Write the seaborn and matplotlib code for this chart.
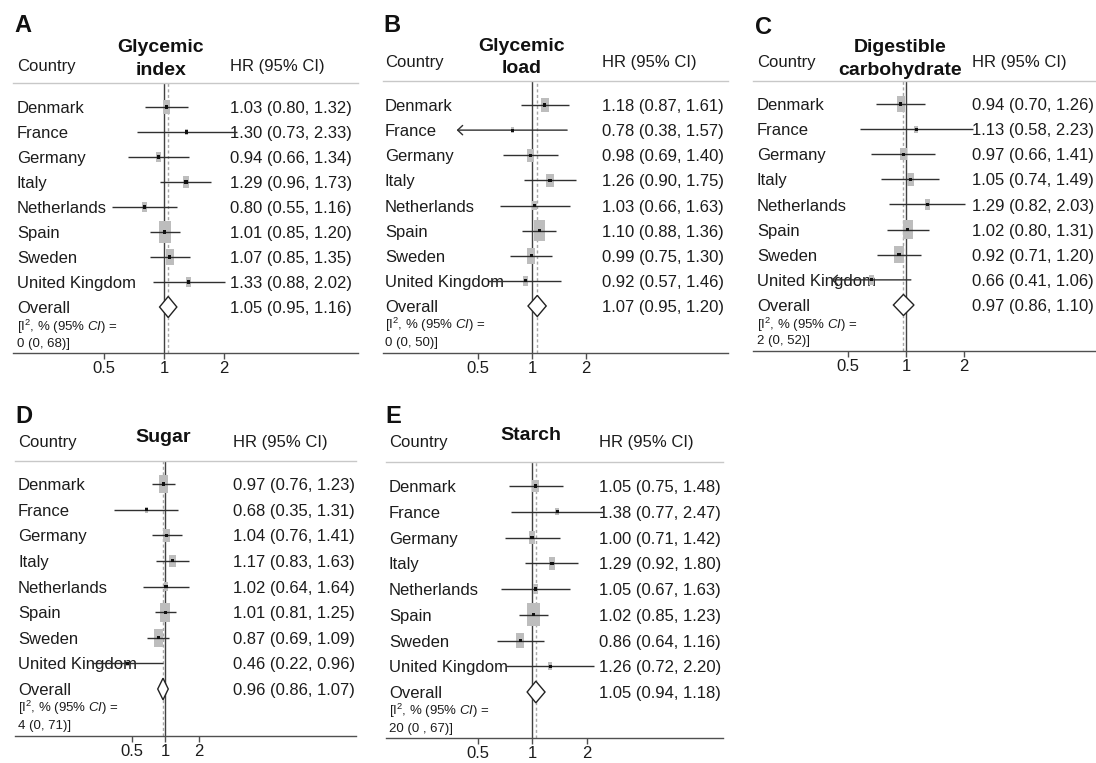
import numpy as np
import pandas as pd
import matplotlib
matplotlib.use("Agg")
import matplotlib.pyplot as plt
import matplotlib.transforms as mtrans
from matplotlib.ticker import FixedLocator, NullLocator
import seaborn as sns

# ---------------- data ----------------
countries = ["Denmark", "France", "Germany", "Italy", "Netherlands",
             "Spain", "Sweden", "United Kingdom"]

# A  Glycemic index
gi_hr = [1.03, 1.30, 0.94, 1.29, 0.80, 1.01, 1.07, 1.33]
gi_lo = [0.80, 0.73, 0.66, 0.96, 0.55, 0.85, 0.85, 0.88]
gi_hi = [1.32, 2.33, 1.34, 1.73, 1.16, 1.20, 1.35, 2.02]
gi_w = [15.4, 2.9, 7.7, 11.1, 7.0, 32.5, 18.0, 5.6]
gi_all = [1.05, 0.95, 1.16]
gi_i2 = "0 (0, 68)]"

# B  Glycemic load
gl_hr = [1.18, 0.78, 0.98, 1.26, 1.03, 1.10, 0.99, 0.92]
gl_lo = [0.87, 0.38, 0.69, 0.90, 0.66, 0.88, 0.75, 0.57]
gl_hi = [1.61, 1.57, 1.40, 1.75, 1.63, 1.36, 1.30, 1.46]
gl_w = [14.4, 2.7, 10.9, 12.3, 6.7, 28.8, 18.1, 6.2]
gl_all = [1.07, 0.95, 1.20]
gl_i2 = "0 (0, 50)]"
gl_arrow = ["France"]

# C  Digestible carbohydrate
dc_hr = [0.94, 1.13, 0.97, 1.05, 1.29, 1.02, 0.92, 0.66]
dc_lo = [0.70, 0.58, 0.66, 0.74, 0.82, 0.80, 0.71, 0.41]
dc_hi = [1.26, 2.23, 1.41, 1.49, 2.03, 1.31, 1.20, 1.06]
dc_w = [16.7, 3.2, 10.1, 11.8, 7.0, 23.8, 21.0, 6.4]
dc_all = [0.97, 0.86, 1.10]
dc_i2 = "2 (0, 52)]"
dc_arrow = ["United Kingdom"]

# D  Sugar
su_hr = [0.97, 0.68, 1.04, 1.17, 1.02, 1.01, 0.87, 0.46]
su_lo = [0.76, 0.35, 0.76, 0.83, 0.64, 0.81, 0.69, 0.22]
su_hi = [1.23, 1.31, 1.41, 1.63, 1.64, 1.25, 1.09, 0.96]
su_w = [20.2, 2.7, 12.2, 10.3, 5.3, 24.8, 22.4, 2.2]
su_all = [0.96, 0.86, 1.07]
su_i2 = "4 (0, 71)]"

# E  Starch
st_hr = [1.05, 1.38, 1.00, 1.29, 1.05, 1.02, 0.86, 1.26]
st_lo = [0.75, 0.77, 0.71, 0.92, 0.67, 0.85, 0.64, 0.72]
st_hi = [1.48, 2.47, 1.42, 1.80, 1.63, 1.23, 1.16, 2.20]
st_w = [11.2, 3.8, 10.7, 11.5, 6.5, 37.6, 14.6, 4.1]
st_all = [1.05, 0.94, 1.18]
st_i2 = "20 (0 , 67)]"

tick_vals = [0.5, 1, 2]
tick_labels = ["0.5", "1", "2"]

# ---------------- style ----------------
sns.set_theme(style="white")
plt.rcParams["font.family"] = ["Liberation Sans", "DejaVu Sans"]
plt.rcParams["mathtext.fontset"] = "custom"
plt.rcParams["mathtext.rm"] = "Liberation Sans"
plt.rcParams["mathtext.it"] = "Liberation Sans:italic"
plt.rcParams["mathtext.bf"] = "Liberation Sans:bold"

W, H = 1096, 763
fig = plt.figure(figsize=(W / 100, H / 100), dpi=100)
fig.patch.set_facecolor("white")

TXT = "#1c1c1c"
LINE = "#303030"
BOX = "#bdbdbd"

panels = [
    dict(letter="A", title="Glycemic\nindex", hr=gi_hr, lo=gi_lo, hi=gi_hi, w=gi_w,
         ov=gi_all, i2=gi_i2, arrows=[],
         L=dict(left=13, right=358, x1=164, ppo=60, header=83, row0=107, row8=307,
                bottom=353, lx=14, ly=26, cx=17, cy=67, tx=161, ty=59, hx=230,
                ix=17, iy1=327, iy2=343)),
    dict(letter="B", title="Glycemic\nload", hr=gl_hr, lo=gl_lo, hi=gl_hi, w=gl_w,
         ov=gl_all, i2=gl_i2, arrows=gl_arrow,
         L=dict(left=383, right=728, x1=532, ppo=54, header=81, row0=105, row8=306,
                bottom=353, lx=383, ly=25, cx=385, cy=63, tx=522, ty=57.5, hx=602,
                ix=385, iy1=325, iy2=342)),
    dict(letter="C", title="Digestible\ncarbohydrate", hr=dc_hr, lo=dc_lo, hi=dc_hi, w=dc_w,
         ov=dc_all, i2=dc_i2, arrows=dc_arrow,
         L=dict(left=753, right=1096, x1=906, ppo=58, header=81, row0=104, row8=305,
                bottom=351, lx=755, ly=27, cx=757, cy=62, tx=900, ty=59, hx=972,
                ix=757, iy1=325, iy2=340)),
    dict(letter="D", title="Sugar", hr=su_hr, lo=su_lo, hi=su_hi, w=su_w,
         ov=su_all, i2=su_i2, arrows=[],
         L=dict(left=15, right=356, x1=165, ppo=33.5, header=461, row0=484, row8=689,
                bottom=736, lx=15, ly=417, cx=18, cy=442, tx=163, ty=437, hx=233,
                ix=18, iy1=708, iy2=725)),
    dict(letter="E", title="Starch", hr=st_hr, lo=st_lo, hi=st_hi, w=st_w,
         ov=st_all, i2=st_i2, arrows=[],
         L=dict(left=386, right=723, x1=532, ppo=54.5, header=462, row0=486, row8=692,
                bottom=738, lx=385, ly=417, cx=389, cy=442, tx=531, ty=435, hx=599,
                ix=389, iy1=711, iy2=728)),
]

rect_marker = [(-0.5, -0.95), (0.5, -0.95), (0.5, 0.95), (-0.5, 0.95), (-0.5, -0.95)]


def fx(x):
    return x / W


def fy(y):
    return 1 - y / H


for p in panels:
    L = p["L"]
    step = (L["row8"] - L["row0"]) / 8
    ytop = (L["header"] - L["row0"]) / step
    ybot = (L["bottom"] - L["row0"]) / step
    ax = fig.add_axes([fx(L["left"]), fy(L["bottom"]),
                       (L["right"] - L["left"]) / W, (L["bottom"] - L["header"]) / H])
    ax.set_facecolor("none")

    o_hr, o_lo, o_hi = p["ov"]
    df = pd.DataFrame({"country": countries, "hr": p["hr"], "lo": p["lo"],
                       "hi": p["hi"], "w": p["w"], "row": np.arange(len(countries))})

    sns.scatterplot(data=df, x="hr", y="row", marker=rect_marker,
                    s=7.5 * df["w"].to_numpy(), color=BOX, edgecolor="none",
                    linewidth=0, legend=False, ax=ax, zorder=3)

    for _, r in df.iterrows():
        if r["country"] in p["arrows"]:
            ax.annotate("", xy=(r["lo"], r["row"]), xytext=(r["hi"], r["row"]),
                        arrowprops=dict(arrowstyle="->,head_length=0.3,head_width=0.28",
                                        color=LINE, lw=1, shrinkA=0, shrinkB=0),
                        zorder=4)
        else:
            ax.hlines(r["row"], r["lo"], r["hi"], color=LINE, lw=1, zorder=4)

    sns.scatterplot(data=df, x="hr", y="row", marker="s", s=5, color="#111111",
                    edgecolor="none", linewidth=0, legend=False, ax=ax, zorder=5)

    orow = len(countries)
    ax.fill([o_lo, o_hr, o_hi, o_hr], [orow, orow - 0.42, orow, orow + 0.42],
            facecolor="white", edgecolor="#222222", lw=1, zorder=5)

    ax.axvline(1, color="#404040", lw=1, zorder=2)
    ax.axvline(o_hr, color="#a8a8a8", lw=1, ls=(0, (2.2, 1.8)), zorder=2)

    ax.set_xscale("log")
    ax.set_xlim(2 ** ((L["left"] - L["x1"]) / L["ppo"]), 2 ** ((L["right"] - L["x1"]) / L["ppo"]))
    ax.set_ylim(ybot, ytop)
    for s in ["left", "right"]:
        ax.spines[s].set_visible(False)
    ax.spines["top"].set_color("#c8c8c8")
    ax.spines["top"].set_linewidth(1)
    ax.spines["bottom"].set_color("#505050")
    ax.spines["bottom"].set_linewidth(1)
    ax.set_yticks([])
    ax.xaxis.set_major_locator(FixedLocator(tick_vals))
    ax.xaxis.set_minor_locator(NullLocator())
    ax.set_xticklabels(tick_labels)
    ax.tick_params(axis="x", direction="out", length=4, width=1, color="#505050",
                   labelsize=12, pad=2, labelcolor=TXT, bottom=True)
    ax.set_xlabel("")
    ax.set_ylabel("")

    trans = mtrans.blended_transform_factory(fig.transFigure, ax.transData)
    dy = 0.06
    for _, r in df.iterrows():
        ax.text(fx(L["cx"]), r["row"] + dy, r["country"], transform=trans, ha="left",
                va="center", fontsize=12, color=TXT, zorder=1)
        ax.text(fx(L["hx"]), r["row"] + dy, f"{r['hr']:.2f} ({r['lo']:.2f}, {r['hi']:.2f})",
                transform=trans, ha="left", va="center", fontsize=12, color=TXT, zorder=1)
    ax.text(fx(L["cx"]), orow + dy, "Overall", transform=trans, ha="left", va="center",
            fontsize=12, color=TXT, zorder=1)
    ax.text(fx(L["hx"]), orow + dy, f"{o_hr:.2f} ({o_lo:.2f}, {o_hi:.2f})", transform=trans,
            ha="left", va="center", fontsize=12, color=TXT, zorder=1)

    fig.text(fx(L["ix"]), fy(L["iy1"]), r"[I$^2$, $\mathit{\%\ (95\%\ CI)}$ =",
             ha="left", va="center", fontsize=9.5, color=TXT)
    fig.text(fx(L["ix"]), fy(L["iy2"] + 1), p["i2"], ha="left", va="center", fontsize=9.5, color=TXT)

    # headers
    fig.text(fx(L["lx"]), fy(L["ly"]), p["letter"], ha="left", va="center",
             fontsize=17, fontweight="bold", color="#111111")
    fig.text(fx(L["cx"]), fy(L["cy"]), "Country", ha="left", va="center", fontsize=12, color=TXT)
    fig.text(fx(L["hx"]), fy(L["cy"]), "HR (95% CI)", ha="left", va="center", fontsize=12, color=TXT)
    fig.text(fx(L["tx"]), fy(L["ty"]), p["title"], ha="center", va="center", fontsize=14,
             fontweight="bold", color="#111111", linespacing=1.45, multialignment="center")

fig.savefig("out.png", dpi=100, facecolor="white")
